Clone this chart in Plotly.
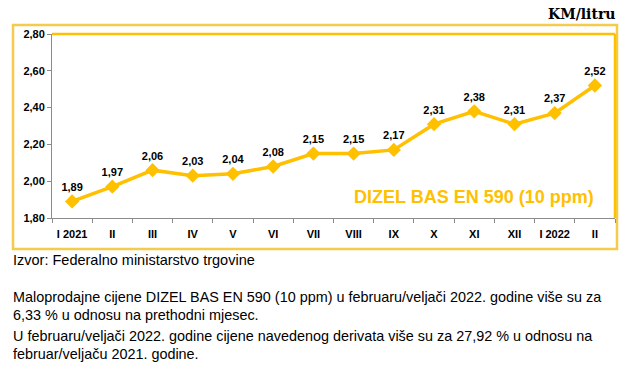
import plotly.graph_objects as go

months = ["I 2021", "II", "III", "IV", "V", "VI", "VII", "VIII", "IX", "X", "XI", "XII", "I 2022", "II"]
prices = [1.89, 1.97, 2.06, 2.03, 2.04, 2.08, 2.15, 2.15, 2.17, 2.31, 2.38, 2.31, 2.37, 2.52]
y_ticks = [1.8, 2.0, 2.2, 2.4, 2.6, 2.8]
y_tick_text = ["1,80", "2,00", "2,20", "2,40", "2,60", "2,80"]
labels = [f"{v:.2f}".replace(".", ",") for v in prices]
xpos = list(range(len(months)))

W, H = 632, 373
OFF = 0  # page body margin removed via post_script
L, R, T, B = 52 - OFF, 615 - OFF, 34 - OFF, 218 - OFF
def px(x):
    return (x - OFF - L) / (R - L)
def py(y):
    return (B - (y - OFF)) / (B - T)

YEL = "#FFC000"
FRAME = "#F4CB4A"
FONT = "Liberation Sans, Arial, sans-serif"

fig = go.Figure()
fig.add_trace(go.Scatter(
    x=xpos, y=prices, mode="lines+markers+text",
    line=dict(color=YEL, width=3.5),
    marker=dict(symbol="diamond", size=11, color=YEL),
    text=labels, textposition="top center",
    textfont=dict(family=FONT, size=11, color="#000000", weight="bold"),
    cliponaxis=False, hoverinfo="skip",
))

shapes = [
    dict(type="rect", xref="paper", yref="paper", x0=px(13), x1=px(617), y0=py(249), y1=py(25),
         line=dict(color=FRAME, width=2.5), layer="below"),
    dict(type="line", xref="paper", yref="paper", x0=0, x1=1, y0=1, y1=1, line=dict(color=YEL, width=2.5)),
    dict(type="line", xref="paper", yref="paper", x0=1, x1=1, y0=0, y1=1, line=dict(color=YEL, width=2.5)),
]

annotations = [
    dict(text="KM/litru", xref="paper", yref="paper", x=px(617), y=py(14), xanchor="right", yanchor="middle",
         showarrow=False, font=dict(family="DejaVu Serif, Liberation Serif, serif", size=14, color="#000", weight="bold")),
    dict(text="DIZEL BAS EN 590 (10 ppm)", xref="paper", yref="paper", x=px(596), y=py(197), xanchor="right",
         yanchor="middle", showarrow=False, font=dict(family=FONT, size=18, color=YEL, weight="bold")),
    dict(text="Izvor: Federalno ministarstvo trgovine", xref="paper", yref="paper", x=px(11), y=py(260),
         xanchor="left", yanchor="middle", showarrow=False, font=dict(family=FONT, size=14.5, color="#000")),
]
para = [
    ("Maloprodajne cijene DIZEL BAS EN 590 (10 ppm) u februaru/veljači 2022. godine više su za", 297),
    ("6,33 % u odnosu na prethodni mjesec.", 315),
    ("U februaru/veljači 2022. godine cijene navedenog derivata više su za 27,92 % u odnosu na", 336),
    ("februar/veljaču 2021. godine.", 354),
]
for t, yy in para:
    annotations.append(dict(text=t, xref="paper", yref="paper", x=px(11), y=py(yy), xanchor="left",
                            yanchor="middle", showarrow=False, font=dict(family=FONT, size=14.4, color="#000")))

fig.update_layout(
    width=W, height=H, margin=dict(l=L, r=W - R, t=T, b=H - B),
    paper_bgcolor="white", plot_bgcolor="white", showlegend=False,
    shapes=shapes, annotations=annotations,
    xaxis=dict(range=[-0.5, len(months) - 0.5], tickvals=xpos, ticktext=months, ticks="",
               showgrid=False, zeroline=False, showline=True, linecolor="#8c8c8c", linewidth=1,
               minor=dict(tickvals=[i - 0.5 for i in range(len(months) + 1)], ticks="outside", ticklen=4,
                          tickcolor="#8c8c8c", showgrid=False),
               ticklabelstandoff=6,
               tickfont=dict(family=FONT, size=11, color="#000", weight="bold"), fixedrange=True),
    yaxis=dict(range=[1.8, 2.8], tickvals=y_ticks, ticktext=y_tick_text, showgrid=False, zeroline=False,
               showline=True, linecolor="#8c8c8c", linewidth=1, ticks="outside", ticklen=4,
               tickcolor="#8c8c8c", tickfont=dict(family=FONT, size=11, color="#000", weight="bold"),
               fixedrange=True),
)
fig.write_html("out.html", config={"displayModeBar": False},
               post_script="document.body.style.margin='0';document.body.style.padding='0';")
